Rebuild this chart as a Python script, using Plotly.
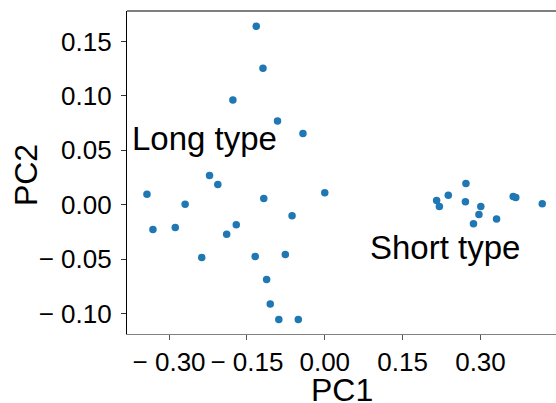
import plotly.graph_objects as go

# Long-type samples (PC1, PC2)
long_pc1 = [-0.132, -0.119, -0.177, -0.091, -0.042, -0.222, -0.206, -0.3425, 0.000,
            -0.269, -0.1175, -0.063, -0.331, -0.288, -0.1705, -0.189, -0.237, -0.134,
            -0.076, -0.112, -0.105, -0.0885, -0.051]
long_pc2 = [0.164, 0.1254, 0.0963, 0.0771, 0.0654, 0.0269, 0.0186, 0.0098, 0.0110,
            0.0006, 0.0058, -0.0101, -0.0227, -0.0208, -0.0183, -0.0269, -0.0483, -0.0474,
            -0.0456, -0.0685, -0.0911, -0.1052, -0.1052]

# Short-type samples (PC1, PC2)
short_pc1 = [0.272, 0.2155, 0.2208, 0.238, 0.271, 0.3006, 0.297, 0.2865, 0.331, 0.363, 0.368, 0.419]
short_pc2 = [0.0195, 0.0039, -0.0016, 0.0089, 0.0028, -0.0016, -0.0089, -0.0174, -0.0131, 0.0076, 0.0067, 0.0009]

pc1 = long_pc1 + short_pc1
pc2 = long_pc2 + short_pc2

# Ticks
x_tickvals = [-0.30, -0.15, 0.00, 0.15, 0.30]
x_ticktext = ["\u2212 0.30", "\u2212 0.15", "0.00", "0.15", "0.30"]
y_tickvals = [-0.10, -0.05, 0.00, 0.05, 0.10, 0.15]
y_ticktext = ["\u2212 0.10", "\u2212 0.05", "0.00", "0.05", "0.10", "0.15"]

# Axis titles
x_title = "PC1"
y_title = "PC2"

# Group labels
label_texts = ["Long type", "Short type"]
label_x = [-0.37, 0.09]
label_y = [0.05, -0.05]

FONT = "Liberation Sans, Arial, Helvetica, sans-serif"

fig = go.Figure()
fig.add_trace(go.Scatter(
    x=pc1, y=pc2, mode="markers",
    marker=dict(color="#1f77b4", size=7.5, line=dict(width=0)),
    showlegend=False, hoverinfo="skip",
))

annotations = []
for t, ax_, ay_ in zip(label_texts, label_x, label_y):
    annotations.append(dict(
        x=ax_, y=ay_, xref="x", yref="y", text=t, showarrow=False,
        xanchor="left", yanchor="bottom", yshift=-9, xshift=-3,
        font=dict(family=FONT, size=33, color="black"),
    ))
# axis titles as annotations (precise placement)
annotations.append(dict(
    x=0.5, y=0, xref="paper", yref="paper", text=x_title, showarrow=False,
    xanchor="center", yanchor="middle", yshift=-56,
    font=dict(family=FONT, size=32, color="black"),
))
annotations.append(dict(
    x=0, y=0.492, xref="paper", yref="paper", text=y_title, showarrow=False,
    textangle=-90, xanchor="center", yanchor="middle", xshift=-101,
    font=dict(family=FONT, size=32, color="black"),
))

fig.update_layout(
    width=556, height=403,
    margin=dict(l=127, r=0, t=11, b=69, autoexpand=False),
    paper_bgcolor="white", plot_bgcolor="white",
    font=dict(family=FONT, color="black"),
    annotations=annotations,
    shapes=[dict(type="line", xref="paper", yref="paper", x0=0, x1=1, y0=1, y1=1,
                 line=dict(color="black", width=1.2))],
    xaxis=dict(
        range=[-0.381, 0.4455], showgrid=False, zeroline=False, automargin=False,
        tickmode="array", tickvals=x_tickvals, ticktext=x_ticktext,
        ticks="outside", ticklen=5, tickwidth=1, tickcolor="#555555",
        showline=True, linecolor="#808080", linewidth=1.4,
        tickfont=dict(family=FONT, size=26, color="black"),
    ),
    yaxis=dict(
        range=[-0.1186, 0.178], showgrid=False, zeroline=False, automargin=False,
        tickmode="array", tickvals=y_tickvals, ticktext=y_ticktext,
        ticks="outside", ticklen=5, tickwidth=1, tickcolor="#333333",
        showline=True, linecolor="black", linewidth=1.2,
        tickfont=dict(family=FONT, size=26, color="black"),
        ticklabelstandoff=4,
    ),
)

fig.write_html("out.html")
